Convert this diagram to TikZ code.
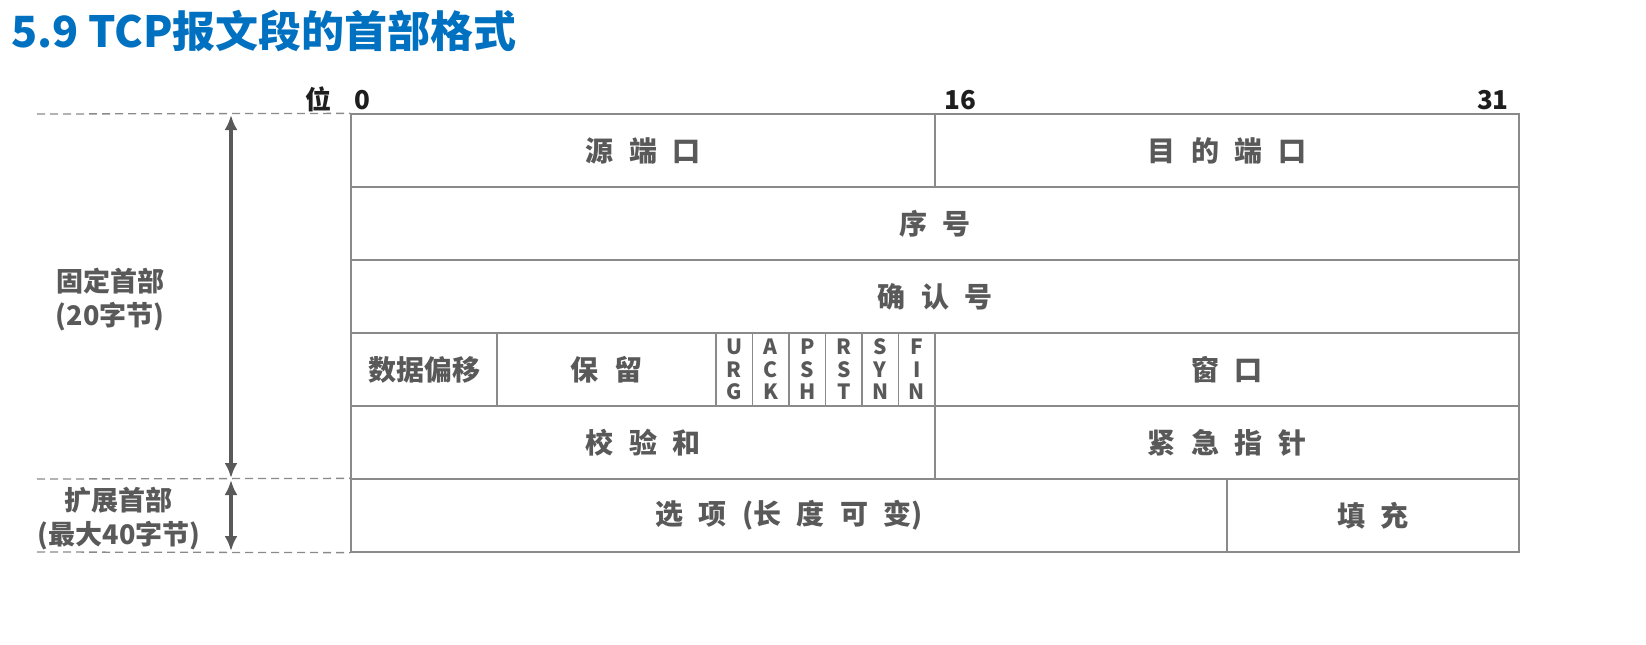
\documentclass[tikz,border=0pt]{standalone}
\usepackage{fontspec}
\setmainfont{Noto Sans CJK SC}
\usetikzlibrary{arrows.meta}
\definecolor{tgray}{HTML}{595959}
\definecolor{lgray}{HTML}{8A8A8A}
\definecolor{tblue}{HTML}{0070C0}
\definecolor{hdark}{HTML}{1E1E1E}
\newcommand\cgap{\hspace{0.55em}}
\begin{document}
\begin{tikzpicture}[x=1pt,y=-1pt,
  cell/.style={draw=lgray, line width=1.3pt, text=tgray, inner sep=0pt,
    font=\bfseries\fontsize{28}{30}\selectfont},
  flag/.style={cell, align=center, font=\bfseries\fontsize{21}{22.5}\selectfont},
  hdr/.style={text=hdark, inner sep=0pt, font=\bfseries\fontsize{26}{28}\selectfont},
  side/.style={text=tgray, inner sep=0pt, align=center, font=\bfseries\fontsize{27}{34}\selectfont},
  dline/.style={draw=lgray, line width=1.3pt, dash pattern=on 8pt off 5pt},
  span/.style={draw=tgray, line width=4.5pt, {Latex[length=15pt,width=13pt]}-{Latex[length=15pt,width=13pt]}, shorten <=1pt, shorten >=1pt}]
\useasboundingbox (0,0) rectangle (1646,645);
% title
\node[anchor=west, inner sep=0pt, text=tblue, font=\bfseries\fontsize{43}{46}\selectfont] (title) at (11,31) {5.9 TCP报文段的首部格式};
% bit headers
\node[hdr, anchor=base east] (wei) at (332,109) {位};
\node[hdr, anchor=base west] (b0) at (354,109) {0};
\node[hdr, anchor=base west] (b16) at (944,109) {16};
\node[hdr, anchor=base east] (b31) at (1509,109) {31};
% row 1
\node[cell, minimum width=584pt, minimum height=73pt] (src) at (643,150.5) {源\cgap 端\cgap 口};
\node[cell, minimum width=584pt, minimum height=73pt] (dst) at (1227,150.5) {目\cgap 的\cgap 端\cgap 口};
% row 2
\node[cell, minimum width=1168pt, minimum height=73pt] (seq) at (935,223.5) {序\cgap 号};
% row 3
\node[cell, minimum width=1168pt, minimum height=73pt] (ack) at (935,296.5) {确\cgap 认\cgap 号};
% row 4
\node[cell, minimum width=146pt, minimum height=73pt] (off) at (424,369.5) {数据偏移};
\node[cell, minimum width=219pt, minimum height=73pt] (res) at (606.5,369.5) {保\cgap 留};
\node[flag, minimum width=36.5pt, minimum height=73pt] (urg) at (734.25,369.5) {U\\R\\G};
\node[flag, minimum width=36.5pt, minimum height=73pt] (fack) at (770.75,369.5) {A\\C\\K};
\node[flag, minimum width=36.5pt, minimum height=73pt] (psh) at (807.25,369.5) {P\\S\\H};
\node[flag, minimum width=36.5pt, minimum height=73pt] (rst) at (843.75,369.5) {R\\S\\T};
\node[flag, minimum width=36.5pt, minimum height=73pt] (syn) at (880.25,369.5) {S\\Y\\N};
\node[flag, minimum width=36.5pt, minimum height=73pt] (fin) at (916.75,369.5) {F\\I\\N};
\node[cell, minimum width=584pt, minimum height=73pt] (win) at (1227,369.5) {窗\cgap 口};
% row 5
\node[cell, minimum width=584pt, minimum height=73pt] (chk) at (643,442.5) {校\cgap 验\cgap 和};
\node[cell, minimum width=584pt, minimum height=73pt] (urp) at (1227,442.5) {紧\cgap 急\cgap 指\cgap 针};
% row 6
\node[cell, minimum width=876pt, minimum height=73pt] (opt) at (789,515.5) {选\cgap 项\cgap (长\cgap 度\cgap 可\cgap 变)};
\node[cell, minimum width=292pt, minimum height=73pt] (pad) at (1373,515.5) {填\cgap 充};
% left side
\coordinate (d1) at (37,114);
\coordinate (d2) at (37,479);
\coordinate (d3) at (37,552);
\draw[dline] (d1) -- (src.north west);
\draw[dline] (d2) -- (opt.north west);
\draw[dline] (d3) -- (opt.south west);
\coordinate (a1) at (231,114);
\coordinate (a2) at (231,479);
\coordinate (a3) at (231,552);
\draw[span] (a1) -- (a2);
\draw[span] (a2) -- (a3);
\node[side] (fixed) at (110,300) {固定首部\\(20字节)};
\node[side] (ext) at (119,519) {扩展首部\\(最大40字节)};
\end{tikzpicture}
\end{document}
